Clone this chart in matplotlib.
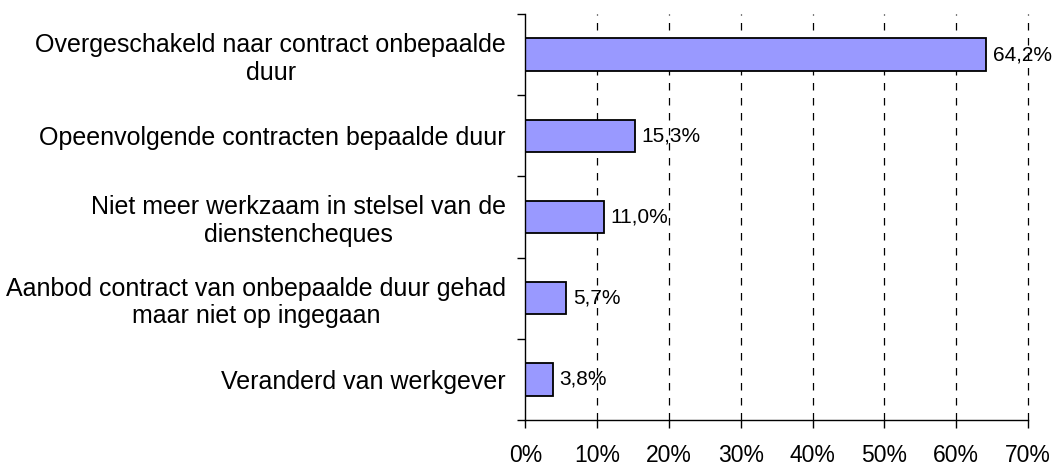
import numpy as np
import matplotlib
matplotlib.use('Agg')
import matplotlib.pyplot as plt

plt.rcParams['font.family'] = ['Liberation Sans', 'DejaVu Sans']

# data
categories = [
    'Overgeschakeld naar contract onbepaalde\nduur',
    'Opeenvolgende contracten bepaalde duur',
    'Niet meer werkzaam in stelsel van de\ndienstencheques',
    'Aanbod contract van onbepaalde duur gehad\nmaar niet op ingegaan',
    'Veranderd van werkgever',
]
values = [64.2, 15.3, 11.0, 5.7, 3.8]
value_labels = ['64,2%', '15,3%', '11,0%', '5,7%', '3,8%']
x_ticks = [0, 10, 20, 30, 40, 50, 60, 70]
x_ticklabels = ['0%', '10%', '20%', '30%', '40%', '50%', '60%', '70%']

fig = plt.figure(figsize=(10.55, 4.66), dpi=100)
ax = fig.add_axes([0.498, 0.0987, 0.4765, 0.8713])

y = np.arange(len(categories))

# gridlines behind bars
for xt in x_ticks[1:]:
    ax.axvline(xt, color='black', linestyle=(0, (6, 6)), linewidth=0.9,
               zorder=0, clip_on=False)

ax.barh(y, values, height=0.4, color='#9999FF', edgecolor='black',
        linewidth=1.3, zorder=2)

for yi, v, lab in zip(y, values, value_labels):
    ax.text(v + 0.9, yi, lab, va='center', ha='left', fontsize=15, zorder=3)

ax.set_xlim(0, 70)
ax.set_ylim(len(categories) - 0.5, -0.5)

ax.set_xticks(x_ticks)
ax.set_xticklabels(x_ticklabels, fontsize=16.5)
ax.tick_params(axis='x', direction='out', length=6, width=1, pad=11)

ax.set_yticks(y)
ax.set_yticklabels(categories, fontsize=18, multialignment='center')
ax.tick_params(axis='y', which='major', length=0, pad=14)
ax.set_yticks(np.arange(-0.5, len(categories)), minor=True)
ax.tick_params(axis='y', which='minor', direction='out', length=6, width=1)

ax.spines['right'].set_visible(False)
ax.spines['top'].set_visible(False)
ax.spines['left'].set_linewidth(1)
ax.spines['bottom'].set_linewidth(1)

plt.savefig('out.png', dpi=100)
